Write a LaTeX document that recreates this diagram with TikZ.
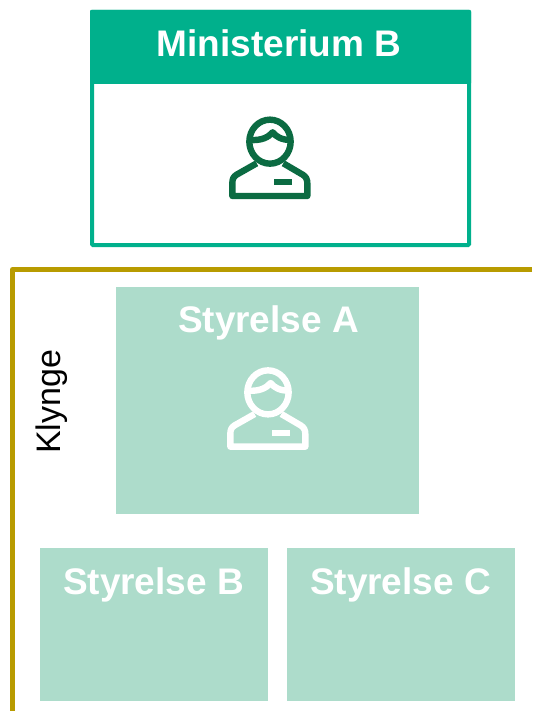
\documentclass[tikz,border=0pt]{standalone}
\usepackage{fontspec}
\setmainfont{Liberation Sans}
\definecolor{hdr}{HTML}{00B08C}
\definecolor{pale}{HTML}{ADDCCB}
\definecolor{dk}{HTML}{0B6B42}
\definecolor{gold}{HTML}{B89B00}
\tikzset{
  box/.style={anchor=north west,inner sep=0pt,outer sep=0pt,fill=pale},
  title/.style={text=white,font=\bfseries\fontsize{37}{40}\selectfont,inner sep=0pt},
  iconline/.style={line width=6.4pt,line join=round},
}
\newcommand{\person}[3]{%
  \begin{scope}[shift={(#1,#2)},x=0.3333pt,y=-0.3333pt,draw=#3,fill=#3]
    \draw[iconline] (210,125) ellipse [x radius=62,y radius=66];
    \draw[iconline] (150,120) .. controls (185,122) and (205,112) .. (218,97) .. controls (228,110) and (245,120) .. (272,120);
    \draw[iconline] (170,190) -- (110,224) .. controls (100,230) and (97,238) .. (97,250) -- (97,288) -- (322,288) -- (322,250) .. controls (322,238) and (318,230) .. (308,224) -- (250,190);
    \fill (223,238) rectangle (276,256);
  \end{scope}}
\begin{document}
\begin{tikzpicture}[x=1pt,y=-1pt]
\useasboundingbox (0,0) rectangle (532,711);
\fill[white] (0,0) rectangle (532,711);
\node[box,fill=white,draw=hdr,line width=4pt,rounded corners=1pt,minimum width=377pt,minimum height=233pt] (minb) at (92,12) {};
\node[box,fill=hdr,minimum width=381pt,minimum height=74pt,rounded corners=1pt] (minh) at (90,10) {};
\node[title] (mint) at (279,43) {Ministerium B};
\person{200}{100}{dk}
\draw[gold,line width=5pt,line join=round] (532,269.5) -- (12.5,269.5) -- (12.5,711);
\node[rotate=90,font=\fontsize{34}{38}\selectfont,inner sep=0pt] (kl) at (52,402) {Klynge};
\node[box,minimum width=303pt,minimum height=227pt] (a) at (116,287) {};
\node[title] (at) at (268.5,323) {Styrelse A};
\person{198}{350.7}{white}
\node[box,minimum width=228pt,minimum height=153pt] (b) at (39.5,548) {};
\node[title] (bt) at (153.5,585) {Styrelse B};
\node[box,minimum width=228pt,minimum height=153pt] (c) at (286.5,548) {};
\node[title] (ct) at (400.5,585) {Styrelse C};
\end{tikzpicture}
\end{document}
